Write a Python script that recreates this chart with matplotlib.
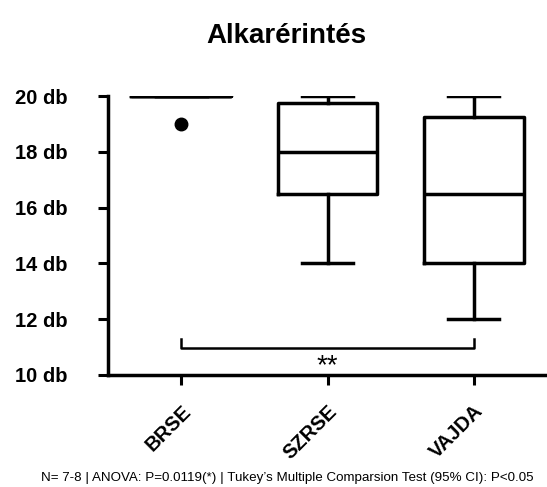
import matplotlib
matplotlib.use("Agg")
import matplotlib.pyplot as plt
from matplotlib.transforms import ScaledTranslation

categories = ["BRSE", "SZRSE", "VAJDA"]
medians = [20, 18, 16.5]
q1 = [20, 16.5, 14]
q3 = [20, 19.75, 19.25]
whisker_low = [20, 14, 12]
whisker_high = [20, 20, 20]
outliers = [[19], [], []]
y_ticks = [10, 12, 14, 16, 18, 20]
y_tick_labels = [f"{v} db" for v in y_ticks]
sig_pair = (1, 3)
sig_label = "**"
title = "Alkarérintés"
footer = "N= 7-8 | ANOVA: P=0.0119(*) | Tukey\u2019s Multiple Comparsion Test (95% CI): P<0.05"

plt.rcParams['font.family'] = ['Liberation Sans', 'DejaVu Sans']

fig = plt.figure(figsize=(5.47, 4.87), dpi=100)
ax = fig.add_axes([108/547, 1-375/487, 1-108/547, (375-96)/487])

stats = []
for i, c in enumerate(categories):
    stats.append(dict(label=c, med=medians[i], q1=q1[i], q3=q3[i],
                      whislo=whisker_low[i], whishi=whisker_high[i],
                      fliers=outliers[i]))

lw = 2.5
ax.bxp(stats, positions=[1, 2, 3], widths=0.68,
       boxprops=dict(color='black', linewidth=lw),
       medianprops=dict(color='black', linewidth=lw),
       whiskerprops=dict(color='black', linewidth=lw),
       capprops=dict(color='black', linewidth=lw),
       capwidths=0.35,
       flierprops=dict(marker='o', markerfacecolor='black', markeredgecolor='black', markersize=9))

ax.set_xlim(0.5, 3.5)
ax.set_ylim(10, 20)
ax.set_yticks(y_ticks)
ax.set_yticklabels(y_tick_labels, fontsize=14.5, fontweight='bold')
ax.set_xticks([1, 2, 3])
ax.set_xticklabels(categories, fontsize=14.5, fontweight='bold', rotation=45,
                   ha='right', va='top', rotation_mode='anchor')
offset = ScaledTranslation(6/72, 0, fig.dpi_scale_trans)
for lbl in ax.get_xticklabels():
    lbl.set_transform(lbl.get_transform() + offset)
ax.tick_params(axis='both', direction='out', length=7, width=2.2, color='black')
ax.tick_params(axis='y', pad=22)
ax.tick_params(axis='x', pad=12)
for s in ['top', 'right']:
    ax.spines[s].set_visible(False)
for s in ['left', 'bottom']:
    ax.spines[s].set_linewidth(2.5)
ax.spines['left'].set_bounds(10, 20)

# significance bracket
x1, x2 = sig_pair
yb, yt = 10.97, 11.3
ax.plot([x1, x1, x2, x2], [yt, yb, yb, yt], color='black', linewidth=1.8, clip_on=False)
ax.text((x1 + x2) / 2, 10.05, sig_label, ha='center', va='baseline', fontsize=20)

fig.text(286/547, 1-36/487, title, ha='center', va='center', fontsize=20, fontweight='bold')
fig.text(287/547, 1-478/487, footer, ha='center', va='center', fontsize=9.6)

fig.savefig("out.png", dpi=100)
